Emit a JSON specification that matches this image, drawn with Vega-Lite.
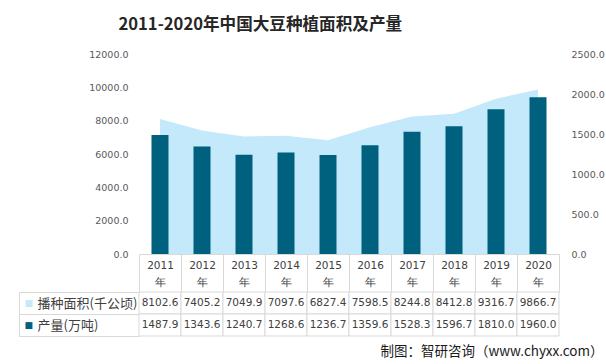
{
  "$schema": "https://vega.github.io/schema/vega-lite/v6.json",
  "padding": {"left": 18, "top": 17, "right": 4, "bottom": 4},
  "background": "white",
  "data": {"values": [
    {"year": "2011", "area": 8102.6, "prod": 1487.9},
    {"year": "2012", "area": 7405.2, "prod": 1343.6},
    {"year": "2013", "area": 7049.9, "prod": 1240.7},
    {"year": "2014", "area": 7097.6, "prod": 1268.6},
    {"year": "2015", "area": 6827.4, "prod": 1236.7},
    {"year": "2016", "area": 7598.5, "prod": 1359.6},
    {"year": "2017", "area": 8244.8, "prod": 1528.3},
    {"year": "2018", "area": 8412.8, "prod": 1596.7},
    {"year": "2019", "area": 9316.7, "prod": 1810.0},
    {"year": "2020", "area": 9866.7, "prod": 1960.0}
  ]},
  "title": {"text": "2011-2020年中国大豆种植面积及产量", "anchor": "start", "dx": 100, "offset": 15, "font": "Noto Sans CJK SC", "fontSize": 16.6, "fontWeight": "bold", "color": "#262626"},
  "config": {"view": {"stroke": null}},
  "bounds": "flush",
  "spacing": 38,
  "resolve": {"scale": {"x": "independent", "y": "independent"}},
  "vconcat": [
    {
      "width": 420,
      "height": 200,
      "layer": [
        {
          "mark": {"type": "area", "color": "#c4e9fb", "opacity": 1},
          "encoding": {
            "x": {"field": "year", "type": "ordinal", "scale": {"type": "band", "paddingInner": 0, "paddingOuter": 0},
              "axis": {"orient": "bottom", "title": null, "domain": true, "domainColor": "#d9d9d9", "ticks": true, "tickColor": "#d9d9d9", "tickSize": 38, "tickBand": "extent", "labelExpr": "datum.label == '' || datum.label == null ? '' : [datum.label, '年']", "labelPadding": -32, "labelAngle": 0, "labelFont": "DejaVu Sans", "labelFontSize": 10.5, "labelColor": "#404040", "labelLineHeight": 17}},
            "y": {"field": "area", "type": "quantitative", "scale": {"domain": [0, 12000]},
              "axis": {"orient": "left", "title": null, "values": [0, 2000, 4000, 6000, 8000, 10000, 12000], "format": ".1f", "grid": false, "domain": false, "ticks": false, "labelPadding": 11, "labelFont": "DejaVu Sans", "labelFontSize": 9.5, "labelColor": "#595959"}}
          }
        },
        {
          "mark": {"type": "bar", "color": "#00617f", "size": 17},
          "encoding": {
            "x": {"field": "year", "type": "ordinal", "scale": {"type": "band", "paddingInner": 0, "paddingOuter": 0}},
            "y": {"field": "prod", "type": "quantitative", "scale": {"domain": [0, 2500]},
              "axis": {"orient": "right", "title": null, "values": [0, 500, 1000, 1500, 2000, 2500], "format": ".1f", "grid": false, "domain": false, "ticks": false, "labelPadding": 12, "labelFont": "DejaVu Sans", "labelFontSize": 9.5, "labelColor": "#595959"}}
          }
        }
      ],
      "resolve": {"scale": {"y": "independent"}}
    },
    {
      "width": 420,
      "height": 44,
      "title": {"text": "制图：智研咨询（www.chyxx.com）", "orient": "bottom", "anchor": "end", "dx": 44, "offset": 8, "font": "Noto Sans CJK SC", "fontSize": 13.5, "fontWeight": "normal", "color": "#1a1a1a"},
      "transform": [{"fold": ["area", "prod"], "as": ["series", "value"]}],
      "layer": [
        {
          "mark": {"type": "rect", "fill": "white", "stroke": "#d9d9d9", "strokeWidth": 1},
          "encoding": {
            "x": {"field": "year", "type": "ordinal", "scale": {"type": "band", "paddingInner": 0, "paddingOuter": 0}, "axis": null},
            "y": {"field": "series", "type": "nominal", "sort": ["area", "prod"], "scale": {"paddingInner": 0, "paddingOuter": 0},
              "axis": {"orient": "left", "title": null, "domain": false, "ticks": true, "tickColor": "#d9d9d9", "tickSize": 120, "tickBand": "extent", "labelExpr": "datum.value == 'area' ? '播种面积(千公顷)' : datum.value == 'prod' ? '产量(万吨)' : ''", "labelAlign": "left", "labelPadding": -18, "labelFont": "Noto Sans CJK SC", "labelFontSize": 13, "labelColor": "#404040"}}
          }
        },
        {
          "mark": {"type": "text", "font": "DejaVu Sans", "fontSize": 10.5, "color": "#404040"},
          "encoding": {
            "x": {"field": "year", "type": "ordinal", "scale": {"type": "band", "paddingInner": 0, "paddingOuter": 0}},
            "y": {"field": "series", "type": "nominal", "sort": ["area", "prod"], "axis": null},
            "text": {"field": "value", "type": "quantitative", "format": ".1f"}
          }
        },
        {
          "mark": {"type": "text", "opacity": 0},
          "encoding": {
            "y": {"field": "series", "type": "nominal", "sort": ["area", "prod"],
              "axis": {"orient": "left", "offset": 120, "title": null, "domain": true, "domainColor": "#d9d9d9", "ticks": false, "labelExpr": "'■'", "labelAlign": "left", "labelPadding": -5, "labelFont": "DejaVu Sans", "labelFontSize": 9, "labelColor": {"condition": {"test": "datum.value == 'area'", "value": "#c4e9fb"}, "value": "#00617f"}}},
            "text": {"value": ""}
          }
        }
      ],
      "resolve": {"axis": {"y": "independent"}}
    }
  ]
}
